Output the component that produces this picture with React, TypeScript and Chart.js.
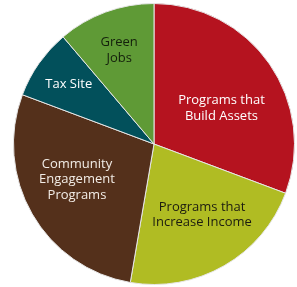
import React, { useEffect, useRef } from "react";
import { Chart, registerables } from "chart.js";

Chart.register(...registerables);

const categories: string[][] = [
  ["Programs that", "Build Assets"],
  ["Programs that", "Increase Income"],
  ["Community", "Engagement", "Programs"],
  ["Tax Site"],
  ["Green", "Jobs"],
];
const shares: number[] = [30.7, 22.0, 28.0, 8.1, 11.2];
const sliceColors: string[] = ["#b5131f", "#b0bc23", "#54301b", "#02505b", "#5f9a36"];
const labelColors: string[] = ["#ffffff", "#1c1c10", "#f2ece6", "#ffffff", "#14200c"];
// label placement: [fraction of radius, angle offset in degrees from slice middle]
const labelPlacement: [number, number][] = [
  [0.543, 6.9],
  [0.609, -4.3],
  [0.604, 5.1],
  [0.74, -0.2],
  [0.713, -0.2],
];

const labelPlugin = {
  id: "sliceLabels",
  afterDatasetsDraw(chart: any) {
    const meta = chart.getDatasetMeta(0);
    const ctx = chart.ctx;
    ctx.save();
    ctx.font = "13px 'Open Sans'";
    ctx.textAlign = "center";
    ctx.textBaseline = "middle";
    meta.data.forEach((arc: any, i: number) => {
      const { x, y, startAngle, endAngle, outerRadius } = arc.getProps(
        ["x", "y", "startAngle", "endAngle", "outerRadius"],
        true
      );
      const [frac, dDeg] = labelPlacement[i];
      const mid = (startAngle + endAngle) / 2 + (dDeg * Math.PI) / 180;
      const r = outerRadius * frac;
      const cx = x + Math.cos(mid) * r;
      const cy = y + Math.sin(mid) * r;
      const lines = categories[i];
      const lh = 15.5;
      ctx.fillStyle = labelColors[i];
      lines.forEach((line, j) => {
        ctx.fillText(line, cx, cy + (j - (lines.length - 1) / 2) * lh);
      });
    });
    ctx.restore();
  },
};

export default function App() {
  const ref = useRef<HTMLCanvasElement | null>(null);
  useEffect(() => {
    if (!ref.current) return;
    const chart = new Chart(ref.current, {
      type: "pie",
      data: {
        labels: categories.map((c) => c.join(" ")),
        datasets: [
          {
            data: shares,
            backgroundColor: sliceColors,
            borderColor: "#e6e6e6",
            borderWidth: 1,
          },
        ],
      },
      options: {
        responsive: false,
        animation: false,
        layout: { padding: { left: 13, right: 2, top: 3, bottom: 2 } },
        plugins: {
          legend: { display: false },
          tooltip: { enabled: false },
        },
      },
      plugins: [labelPlugin],
    });
    return () => chart.destroy();
  }, []);
  return (
    <div style={{ position: "fixed", left: 0, top: 0, width: 297, height: 287, background: "#ffffff" }}>
      <canvas ref={ref} width={297} height={287} style={{ width: 297, height: 287 }} />
    </div>
  );
}
